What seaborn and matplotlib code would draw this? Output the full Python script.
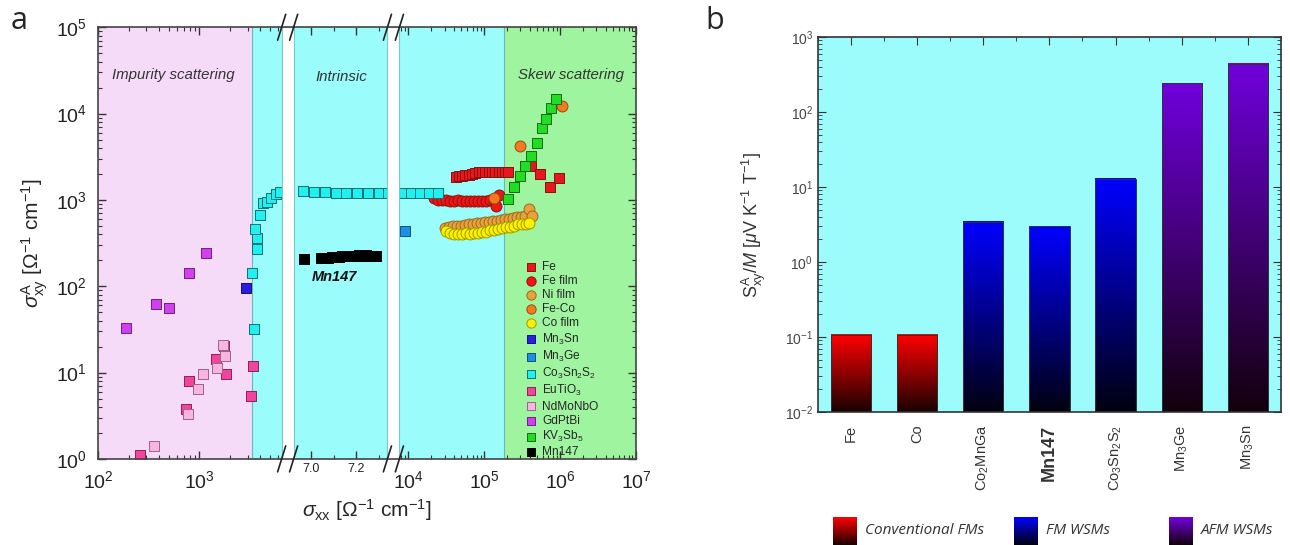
import numpy as np
import matplotlib
matplotlib.use("Agg")
import matplotlib.pyplot as plt
import seaborn as sns
from matplotlib.colors import LinearSegmentedColormap, to_rgb
from matplotlib.ticker import FixedLocator, FixedFormatter, NullFormatter

sns.set_style("ticks")
plt.rcParams["font.family"] = ["Liberation Sans", "DejaVu Sans"]
plt.rcParams["mathtext.fontset"] = "custom"
plt.rcParams["mathtext.rm"] = "Liberation Sans"
plt.rcParams["mathtext.it"] = "Liberation Sans:italic"
plt.rcParams["mathtext.bf"] = "Liberation Sans:bold"

# --- panel a: sigma_xx vs sigma_xy^A [Ohm^-1 cm^-1] ---
fe_sxx = [42800, 46900, 51400, 56200, 63500, 69500, 76200, 85900, 94200, 103000, 116400,
          127400, 139600, 157500, 172600, 188900, 207000, 411000, 541000, 731000, 970000]
fe_sxy = [1860, 1880, 1900, 1920, 1950, 2000, 2050, 2080, 2090, 2100, 2100,
          2110, 2120, 2110, 2110, 2100, 2090, 2500, 1980, 1420, 1790]

fefilm_sxx = [21960, 24800, 28000, 31600, 35700, 40300, 45500, 51300, 57900, 65300, 73700,
              83200, 93900, 106000, 119600, 135000, 143500, 157000]
fefilm_sxy = [1040, 1010, 990, 1000, 980, 970, 990, 960, 975, 970, 965,
              980, 975, 970, 985, 990, 850, 1140]

nifilm_sxx = [30690, 34620, 39080, 44150, 49790, 56230, 63500, 71620, 80860, 91350, 103100,
              116400, 131300, 148300, 167500, 188900, 213300, 240900, 271800, 306900, 346200,
              390900, 428500]
nifilm_sxy = [470, 485, 495, 500, 505, 515, 520, 525, 535, 540, 550,
              555, 565, 575, 585, 595, 605, 615, 630, 640, 655, 780, 650]

feco_sxx = [135600, 295000, 1070000]
feco_sxy = [1040, 4160, 12400]

cofilm_sxx = [31600, 35700, 40300, 45500, 51300, 57900, 65300, 73700, 83200, 93900, 106000,
              119600, 135000, 152300, 171900, 194000, 218900, 247000, 278800, 314700, 355100,
              390900]
cofilm_sxy = [440, 410, 400, 405, 400, 410, 405, 410, 415, 420, 430,
              445, 450, 460, 470, 480, 490, 505, 520, 525, 530, 540]

mn3sn_sxx = [2918]
mn3sn_sxy = [94.6]

mn3ge_sxx = [9130]
mn3ge_sxy = [439]

cosns_sxx = [3443, 3313, 3708, 3708, 3581, 3972, 4256, 4656, 5140, 5763, 6209,
             6966, 7013, 7061, 7109, 7155, 7201, 7249, 7299, 7345,
             8340, 10950, 14380, 18890, 24800]
cosns_sxy = [32.2, 142, 267, 358, 456, 667, 918, 943, 1041, 1167, 1242,
             1265, 1220, 1220, 1215, 1215, 1190, 1215, 1215, 1215,
             1200, 1200, 1195, 1200, 1200]

eutio_sxx = [261, 731, 788, 1476, 1852, 1755, 3388, 3268]
eutio_sxy = [1.11, 3.76, 8.0, 14.3, 9.55, 20.3, 12.0, 5.4]

ndmo_sxx = [359, 776, 981, 1082, 1486, 1715, 1795]
ndmo_sxy = [1.41, 3.34, 6.51, 9.55, 11.4, 20.9, 15.6]

gdptbi_sxx = [187, 370, 503, 788, 1151]
gdptbi_sxy = [32.6, 61.7, 55.5, 141, 240]

kvsb_sxx = [203000, 248000, 295000, 343000, 411000, 494000, 574000, 648000, 755000, 894000]
kvsb_sxy = [1014, 1396, 1884, 2483, 3238, 4508, 6825, 8545, 11640, 14680]

mn147_sxx = [6972, 7047, 7062, 7077, 7092, 7107, 7122, 7137, 7152, 7167, 7182,
             7197, 7212, 7227, 7242, 7257, 7272, 7286]
mn147_sxy = [205, 212, 215, 214, 218, 220, 219, 222, 223, 224, 222,
             225, 227, 226, 228, 226, 224, 223]

# --- panel b: S_xy^A / M [uV K^-1 T^-1] ---
bar_labels = ["Fe", "Co", "Co$_2$MnGa", "Mn147", "Co$_3$Sn$_2$S$_2$", "Mn$_3$Ge", "Mn$_3$Sn"]
bar_values = [0.107, 0.107, 3.47, 3.02, 12.9, 242, 443]
bar_groups = ["Conventional FMs", "Conventional FMs", "FM WSMs", "FM WSMs", "FM WSMs",
              "AFM WSMs", "AFM WSMs"]
group_colors = {"Conventional FMs": "#ff0000", "FM WSMs": "#0000ff", "AFM WSMs": "#7000dc"}
group_dark = {"Conventional FMs": "#1a0000", "FM WSMs": "#00000f", "AFM WSMs": "#12000c"}

# (label, x, y, marker, face, edge)
series = [
    ("Fe", fe_sxx, fe_sxy, "s", "#e8171c", "#8a1010"),
    ("Fe film", fefilm_sxx, fefilm_sxy, "o", "#f01414", "#901010"),
    ("Ni film", nifilm_sxx, nifilm_sxy, "o", "#e9a23b", "#9a6a20"),
    ("Fe-Co", feco_sxx, feco_sxy, "o", "#f37a1f", "#9a4a10"),
    ("Co film", cofilm_sxx, cofilm_sxy, "o", "#fbf000", "#a09a00"),
    ("Mn$_3$Sn", mn3sn_sxx, mn3sn_sxy, "s", "#2a1ee6", "#151070"),
    ("Mn$_3$Ge", mn3ge_sxx, mn3ge_sxy, "s", "#1f8fe6", "#105080"),
    ("Co$_3$Sn$_2$S$_2$", cosns_sxx, cosns_sxy, "s", "#21f0f0", "#107070"),
    ("EuTiO$_3$", eutio_sxx, eutio_sxy, "s", "#f0449f", "#902050"),
    ("NdMoNbO", ndmo_sxx, ndmo_sxy, "s", "#f8b6df", "#a06090"),
    ("GdPtBi", gdptbi_sxx, gdptbi_sxy, "s", "#d23ff0", "#702080"),
    ("KV$_3$Sb$_5$", kvsb_sxx, kvsb_sxy, "s", "#24dc24", "#107010"),
    ("Mn147", mn147_sxx, mn147_sxy, "s", "#000000", "#000000"),
]

# broken x axis: log | linear zoom (x10^3) | log
SEG1_END, MID_START, MID_END, SEG3_START = 6500.0, 6926.0, 7335.0, 7600.0
D1, GAP, WMID, D3 = 101.5, 12.0, 94.0, 76.0
P1 = D1 * np.log10(SEG1_END / 100)
P2, P3, P4 = P1 + GAP, P1 + GAP + WMID, P1 + 2 * GAP + WMID


def fwd(x):
    x = np.asarray(x, dtype=float)
    return np.piecewise(
        x,
        [x <= SEG1_END, (x > SEG1_END) & (x < MID_START), (x >= MID_START) & (x <= MID_END),
         (x > MID_END) & (x < SEG3_START), x >= SEG3_START],
        [lambda v: D1 * np.log10(np.clip(v, 1e-12, None) / 100),
         lambda v: P1 + (v - SEG1_END) / (MID_START - SEG1_END) * GAP,
         lambda v: P2 + (v - MID_START) / (MID_END - MID_START) * WMID,
         lambda v: P3 + (v - MID_END) / (SEG3_START - MID_END) * GAP,
         lambda v: P4 + D3 * np.log10(v / SEG3_START)])


def inv(p):
    p = np.asarray(p, dtype=float)
    return np.piecewise(
        p,
        [p <= P1, (p > P1) & (p < P2), (p >= P2) & (p <= P3), (p > P3) & (p < P4), p >= P4],
        [lambda v: 100 * 10 ** (np.clip(v, -2000, 2000) / D1),
         lambda v: SEG1_END + (v - P1) / GAP * (MID_START - SEG1_END),
         lambda v: MID_START + (v - P2) / WMID * (MID_END - MID_START),
         lambda v: MID_END + (v - P3) / GAP * (SEG3_START - MID_END),
         lambda v: SEG3_START * 10 ** (np.clip(v - P4, -2000, 2000) / D3)])


fig = plt.figure(figsize=(12.9, 5.45), dpi=100)

# ================= panel a =================
ax = fig.add_axes([0.076, 0.158, 0.417, 0.792])
for label, xs, ys, mk, fc, ec in series:
    sns.scatterplot(x=xs, y=ys, marker=mk, color=fc, edgecolor=ec, linewidth=0.7,
                    s=62 if mk == "o" else 55, label=label, zorder=2, ax=ax)

ax.set_xscale("function", functions=(fwd, inv))
ax.set_yscale("log")
ax.set_xlim(100, 1e7)
ax.set_ylim(1, 1e5)

# shaded regimes
ax.axvspan(100, 3300, color="#f6dbf8", zorder=0, lw=0)
ax.axvspan(3300, 1.8e5, color="#9bfcfc", zorder=0, lw=0)
ax.axvspan(1.8e5, 1e7, color="#9ff59f", zorder=0, lw=0)
for xb in (3300, 1.8e5):
    ax.axvline(xb, color="#6fb5b5", lw=0.8, zorder=0.5)
# white break strips
ax.axvspan(SEG1_END, MID_START, facecolor="white", edgecolor="#7fc8c8", lw=0.8, zorder=2.3)
ax.axvspan(MID_END, SEG3_START, facecolor="white", edgecolor="#7fc8c8", lw=0.8, zorder=2.3)

ax.text(548, 27800, "Impurity scattering", style="italic", fontsize=10.8, color="#333",
        ha="center", va="center")
ax.text(7135, 26500, "Intrinsic", style="italic", fontsize=10.8, color="#333",
        ha="center", va="center")
ax.text(1.4e6, 27800, "Skew scattering", style="italic", fontsize=10.8, color="#333",
        ha="center", va="center")
ax.text(7104, 128, "Mn147", style="italic", weight="bold", fontsize=10.5, color="#111",
        ha="center", va="center")

major_x = [1e2, 1e3, 7000, 7200, 1e4, 1e5, 1e6, 1e7]
major_lbl = ["$10^{2}$", "$10^{3}$", "7.0", "7.2", "$10^{4}$", "$10^{5}$", "$10^{6}$", "$10^{7}$"]
minor_x = [k * 10 ** n for n in (2, 3) for k in range(2, 10) if k * 10 ** n < SEG1_END]
minor_x += [7100, 7300, 8000, 9000]
minor_x += [k * 10 ** n for n in (4, 5, 6) for k in range(2, 10)]
ax.xaxis.set_major_locator(FixedLocator(major_x))
ax.xaxis.set_major_formatter(FixedFormatter(major_lbl))
ax.xaxis.set_minor_locator(FixedLocator(minor_x))
ax.xaxis.set_minor_formatter(NullFormatter())

ax.tick_params(which="both", direction="in", top=True, right=True, colors="#333",
               labelcolor="#222")
ax.tick_params(which="major", length=6, width=1.0, labelsize=14, pad=8)
ax.tick_params(which="minor", length=3, width=0.8)
for i, t in enumerate(ax.xaxis.get_major_ticks()):
    if i in (2, 3):
        t.label1.set_fontsize(9)
        t.set_pad(3)
for sp in ax.spines.values():
    sp.set_color("#444")
    sp.set_linewidth(1.2)
    sp.set_zorder(3)

ax.set_xlabel(r"$\sigma_{\mathrm{xx}}$ [$\Omega^{-1}$ cm$^{-1}$]", fontsize=15, labelpad=4)
ax.set_ylabel(r"$\sigma_{\mathrm{xy}}^{\mathrm{A}}$ [$\Omega^{-1}$ cm$^{-1}$]", fontsize=15,
              labelpad=4)

# break marks
to_axes = ax.transData + ax.transAxes.inverted()
for xb in (SEG1_END, MID_START, MID_END, SEG3_START):
    xa = to_axes.transform((xb, 10))[0]
    for ya in (0.0, 1.0):
        ax.plot([xa - 0.0075, xa + 0.0075], [ya - 0.03, ya + 0.03], color="#222", lw=1.2,
                transform=ax.transAxes, clip_on=False, zorder=5)

ax.legend(loc="upper left", bbox_to_anchor=(0.782, 0.47), frameon=False, fontsize=8.6,
          labelspacing=0.18, handletextpad=0.35, borderaxespad=0, handlelength=1.2,
          markerscale=0.85)

# ================= panel b =================
ax2 = fig.add_axes([0.634, 0.244, 0.359, 0.688])
sns.barplot(x=bar_labels, y=bar_values, hue=bar_groups, palette=group_colors, dodge=False,
            width=0.61, legend=False, ax=ax2)
ax2.set_yscale("log")
ax2.set_ylim(1e-2, 1e3)
ax2.set_xlim(-0.5, 6.5)
ax2.set_facecolor("#9cfcfc")

grad = np.linspace(0, 1, 256).reshape(-1, 1)
color_to_group = {to_rgb(c): g for g, c in group_colors.items()}
to_axes2 = ax2.transData + ax2.transAxes.inverted()
for p in list(ax2.patches):
    fc = to_rgb(p.get_facecolor())
    g = min(color_to_group, key=lambda c: sum((a - b) ** 2 for a, b in zip(c, fc)))
    grp = color_to_group[g]
    cmap = LinearSegmentedColormap.from_list(grp, [group_dark[grp], group_colors[grp]])
    (x0, y0) = to_axes2.transform((p.get_x(), 1e-2))
    (x1, y1) = to_axes2.transform((p.get_x() + p.get_width(), p.get_height()))
    ax2.imshow(grad, extent=[x0, x1, y0, y1], transform=ax2.transAxes, cmap=cmap,
               aspect="auto", origin="lower", zorder=2, interpolation="bilinear")
    p.set_facecolor("none")
    p.set_edgecolor("#333")
    p.set_linewidth(0.7)
    p.set_zorder(3)
ax2.set_yscale("log")
ax2.set_ylim(1e-2, 1e3)
ax2.set_xlim(-0.5, 6.5)

ax2.set_xticks(range(len(bar_labels)))
ax2.set_xticklabels(bar_labels, rotation=90)
ax2.set_xticks(np.arange(-0.5, len(bar_labels), 1), minor=True)
ax2.tick_params(axis="x", which="major", direction="in", top=True, bottom=False, length=6,
                labelsize=10.5, pad=9, colors="#333")
ax2.tick_params(axis="x", which="minor", direction="in", top=True, bottom=False, length=3)
ax2.tick_params(axis="y", which="both", direction="in", left=True, right=True, colors="#333",
                labelcolor="#444")
ax2.tick_params(axis="y", which="major", length=6, labelsize=10)
ax2.tick_params(axis="y", which="minor", length=3)
lbls = ax2.get_xticklabels()
lbls[3].set_fontweight("bold")
lbls[3].set_fontsize(13)
for sp in ax2.spines.values():
    sp.set_color("#333")
    sp.set_linewidth(1.2)
    sp.set_zorder(4)
ax2.set_ylabel(r"$\mathrm{S}_{\mathrm{xy}}^{\mathrm{A}}/M$ [$\mu$V K$^{-1}$ T$^{-1}$]",
               fontsize=13, labelpad=12, color="#333")
ax2.set_xlabel("")

# group legend with gradient swatches along the bottom
swatch_x = {"Conventional FMs": 833, "FM WSMs": 1014, "AFM WSMs": 1169}
for grp, sx in swatch_x.items():
    sax = fig.add_axes([sx / 1290, 0, 24 / 1290, 28 / 545])
    sax.imshow(grad, cmap=LinearSegmentedColormap.from_list(
        grp, [group_dark[grp], group_colors[grp]]), aspect="auto", origin="lower")
    sax.axis("off")
    fig.text((sx + 32) / 1290, 1 - 530 / 545, grp, family="Open Sans", style="italic",
             fontsize=11, color="#333", va="center", ha="left")

fig.text(0.008, 0.962, "a", fontsize=22, family="Open Sans", va="center")
fig.text(0.547, 0.962, "b", fontsize=22, family="Open Sans", va="center")

fig.savefig("out.png", dpi=100)
